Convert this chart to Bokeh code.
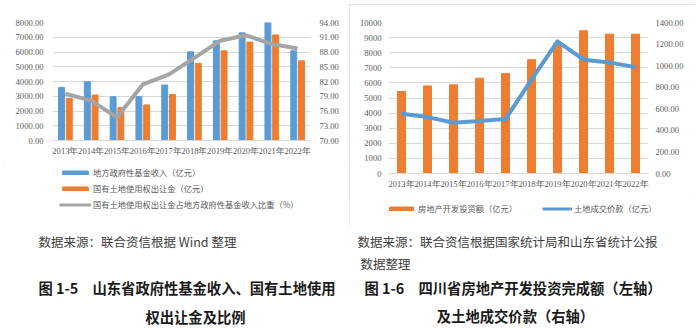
from bokeh.plotting import figure
from bokeh.models import (FactorRange, Range1d, LinearAxis, NumeralTickFormatter, FixedTicker,
                          Legend, LegendItem, ColumnDataSource)
from bokeh.layouts import column, row
from bokeh.transform import dodge
from bokeh.core.properties import value
from bokeh.embed import file_html
from bokeh.resources import INLINE

# ---------------- data ----------------
years = ["2013年", "2014年", "2015年", "2016年", "2017年",
         "2018年", "2019年", "2020年", "2021年", "2022年"]

# Figure 1-5 (Shandong)
fund_income = [3600, 3990, 2970, 2970, 3760, 6010, 6755, 7300, 8000, 6080]
land_transfer = [2860, 3085, 2230, 2410, 3130, 5225, 6080, 6670, 7160, 5400]
land_ratio = [79.5, 78.1, 74.7, 81.4, 83.4, 86.8, 90.3, 91.4, 89.6, 88.7]

# Figure 1-6 (Sichuan)
re_invest = [5430, 5800, 5870, 6310, 6615, 7540, 8600, 9450, 9230, 9230]
land_deal = [554, 523, 471, 486, 505, 870, 1225, 1055, 1030, 985]

left_ticks = [0, 1000, 2000, 3000, 4000, 5000, 6000, 7000, 8000]
ratio_ticks = [70, 73, 76, 79, 82, 85, 88, 91, 94]
invest_ticks = [0, 1000, 2000, 3000, 4000, 5000, 6000, 7000, 8000, 9000, 10000]
deal_ticks = [0, 200, 400, 600, 800, 1000, 1200, 1400]

legend_left = ["地方政府性基金收入（亿元）", "国有土地使用权出让金（亿元）",
               "国有土地使用权出让金占地方政府性基金收入比重（%）"]
legend_right = ["房地产开发投资额（亿元）", "土地成交价款（亿元）"]

source_left = "数据来源：联合资信根据 Wind 整理"
source_right_1 = "数据来源：联合资信根据国家统计局和山东省统计公报"
source_right_2 = "数据整理"
caption_left_1 = "图 1-5　山东省政府性基金收入、国有土地使用"
caption_left_2 = "权出让金及比例"
caption_right_1 = "图 1-6　四川省房地产开发投资完成额（左轴）"
caption_right_2 = "及土地成交价款（右轴）"

# ---------------- style ----------------
BLUE = "#5B9BD5"
ORANGE = "#ED7D31"
GRAY = "#A5A5A5"
GRID = "#D9D9D9"
TICK_FONT = "Liberation Serif"
CJK = "Noto Sans CJK SC"
TXT = "#595959"


def style_axis(ax, standoff):
    ax.major_tick_line_color = None
    ax.minor_tick_line_color = None
    ax.major_tick_out = 0
    ax.major_tick_in = 0
    ax.major_label_standoff = standoff
    ax.major_label_text_font = TICK_FONT
    ax.major_label_text_font_size = "8.6px"
    ax.major_label_text_color = TXT
    ax.axis_line_color = None


def blank(width, height):
    f = figure(width=width, height=height, x_range=Range1d(0, 1), y_range=Range1d(0, 1),
               output_backend="svg", toolbar_location=None,
               x_axis_location=None, y_axis_location=None, min_border=0)
    f.grid.visible = False
    f.outline_line_color = None
    return f


def legend_style(size, **kw):
    return dict(glyph_height=5, label_height=12, padding=0, margin=0,
                border_line_color=None, background_fill_alpha=0,
                label_text_font=CJK, label_text_font_size=size,
                label_text_color=TXT, **kw)


# legend strips (separate small figures, kept out of frame alignment when possible)
lgL = blank(349, 70)
lgR = blank(346, 33)
try:
    lgL.frame_align = False
    lgR.frame_align = False
    aligned = False
except AttributeError:
    aligned = True

# ---------------- left chart ----------------
srcL = ColumnDataSource(dict(year=years, fund=fund_income, land=land_transfer, ratio=land_ratio))
pL = figure(width=349, height=160, x_range=FactorRange(*years), y_range=Range1d(0, 8000),
            output_backend="svg", toolbar_location=None,
            min_border_left=52, min_border_right=39, min_border_top=22, min_border_bottom=20)
pL.extra_y_ranges = {"ratio": Range1d(70, 94)}
pL.outline_line_color = None

pL.vbar(x=dodge("year", -0.15, range=pL.x_range), top="fund", width=0.23,
        source=srcL, fill_color=BLUE, line_color=BLUE)
pL.vbar(x=dodge("year", 0.15, range=pL.x_range), top="land", width=0.23,
        source=srcL, fill_color=ORANGE, line_color=ORANGE)
pL.line(x="year", y="ratio", source=srcL, y_range_name="ratio",
        line_width=4, line_color=GRAY, line_join="round")

axR = LinearAxis(y_range_name="ratio")
pL.add_layout(axR, "right")
for ax in pL.yaxis:
    style_axis(ax, 9)
pL.yaxis[0].ticker = FixedTicker(ticks=left_ticks)
pL.yaxis[0].formatter = NumeralTickFormatter(format="0.00")
axR.ticker = FixedTicker(ticks=ratio_ticks)
axR.formatter = NumeralTickFormatter(format="0.00")
style_axis(pL.xaxis[0], 5)
pL.xaxis[0].axis_line_color = GRID
pL.xgrid.grid_line_color = None
pL.ygrid.ticker = FixedTicker(ticks=left_ticks)
pL.ygrid.grid_line_color = GRID

# legend proxies (one point each, placed outside the visible range)
proxy = ColumnDataSource(dict(x=[-10], y=[-10]))
kb = lgL.vbar(x="x", top="y", width=0.1, source=proxy, fill_color=BLUE, line_color=BLUE)
ko = lgL.vbar(x="x", top="y", width=0.1, source=proxy, fill_color=ORANGE, line_color=ORANGE)
kg = lgL.line(x="x", y="y", source=proxy, line_width=3, line_color=GRAY)
lgL.add_layout(Legend(items=[LegendItem(label=legend_left[0], renderers=[kb]),
                             LegendItem(label=legend_left[1], renderers=[ko]),
                             LegendItem(label=legend_left[2], renderers=[kg])],
                      location=(7 if aligned else 59, 20), orientation="vertical",
                      glyph_width=32, spacing=4, label_standoff=2,
                      **legend_style("8.25px")))

boxL = column(pL, lgL, styles={"outline": "1.5px solid #D9D9D9", "outline-offset": "-5px"})

# ---------------- right chart ----------------
srcR = ColumnDataSource(dict(year=years, invest=re_invest, deal=land_deal))
pR = figure(width=346, height=190, x_range=FactorRange(*years), y_range=Range1d(0, 10000),
            output_backend="svg", toolbar_location=None,
            min_border_left=39, min_border_right=47, min_border_top=18, min_border_bottom=21)
pR.extra_y_ranges = {"deal": Range1d(0, 1400)}
pR.outline_line_color = None

pR.vbar(x="year", top="invest", width=0.31, source=srcR,
        fill_color=ORANGE, line_color=ORANGE)
pR.line(x="year", y="deal", source=srcR, y_range_name="deal",
        line_width=4, line_color=BLUE, line_join="round")

axR2 = LinearAxis(y_range_name="deal")
pR.add_layout(axR2, "right")
for ax in pR.yaxis:
    style_axis(ax, 7)
pR.yaxis[0].ticker = FixedTicker(ticks=invest_ticks)
pR.yaxis[0].formatter = NumeralTickFormatter(format="0")
axR2.ticker = FixedTicker(ticks=deal_ticks)
axR2.formatter = NumeralTickFormatter(format="0.00")
style_axis(pR.xaxis[0], 5)
pR.xaxis[0].axis_line_color = GRID
pR.xgrid.grid_line_color = None
pR.ygrid.ticker = FixedTicker(ticks=invest_ticks)
pR.ygrid.grid_line_color = GRID

proxy2 = ColumnDataSource(dict(x=[-10], y=[-10]))
kr = lgR.vbar(x="x", top="y", width=0.1, source=proxy2, fill_color=ORANGE, line_color=ORANGE)
kl = lgR.line(x="x", y="y", source=proxy2, line_width=3, line_color=BLUE)
if aligned:
    legR_kw = dict(location=(1, 13), glyph_width=27, spacing=19, label_standoff=2,
                   **legend_style("8.1px"))
else:
    legR_kw = dict(location=(37, 13), glyph_width=30, spacing=25, label_standoff=2,
                   **legend_style("8.25px"))
lgR.add_layout(Legend(items=[LegendItem(label=legend_right[0], renderers=[kr]),
                             LegendItem(label=legend_right[1], renderers=[kl])],
                      orientation="horizontal", **legR_kw))

boxR = column(pR, lgR, margin=(4, 0, 0, 0),
              styles={"outline": "1.5px solid #D9D9D9", "outline-offset": "-1.75px"})

# ---------------- captions ----------------
pC = figure(width=700, height=98, x_range=Range1d(0, 700), y_range=Range1d(328, 230),
            output_backend="svg", toolbar_location=None,
            x_axis_location=None, y_axis_location=None, min_border=0)
pC.grid.visible = False
pC.outline_line_color = None
pC.text(x=[38, 357, 360], y=[241, 241, 263],
        text=[source_left, source_right_1, source_right_2],
        text_font=value(CJK), text_font_size="12.5px", text_color="#404040",
        text_align="left", text_baseline="middle")
pC.text(x=[38, 364], y=[287, 287], text=[caption_left_1, caption_right_1],
        text_font=value(CJK), text_font_size="14.3px", text_font_style="bold",
        text_color="#1a1a1a", text_align="left", text_baseline="middle")
pC.text(x=[195, 515], y=[316, 315], text=[caption_left_2, caption_right_2],
        text_font=value(CJK), text_font_size="14.3px", text_font_style="bold",
        text_color="#1a1a1a", text_align="center", text_baseline="middle")

layout = column(row(boxL, boxR), pC)
open("out.html", "w").write(file_html(layout, INLINE))
